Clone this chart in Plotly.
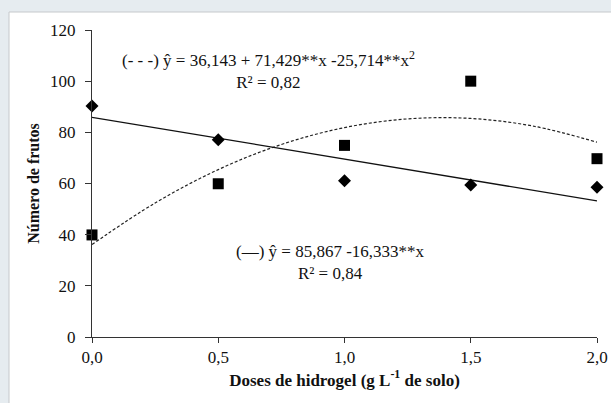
import plotly.graph_objects as go

# Data
doses = [0.0, 0.5, 1.0, 1.5, 2.0]
frutos_diamond = [90.3, 77.1, 61.1, 59.4, 58.5]   # linear fit (solid)
frutos_square = [39.9, 59.9, 74.9, 100.0, 69.7]   # quadratic fit (dashed)

# Fitted curves
fit_x = [0.0, 0.25, 0.5, 0.75, 1.0, 1.25, 1.5, 1.75, 2.0]
fit_quad = [36.14, 52.39, 65.43, 75.25, 81.86, 85.25, 85.43, 82.39, 76.14]
fit_lin_x = [0.0, 2.0]
fit_lin = [85.87, 53.20]

x_ticks = [0.0, 0.5, 1.0, 1.5, 2.0]
x_tick_labels = ["0,0", "0,5", "1,0", "1,5", "2,0"]
y_ticks = [0, 20, 40, 60, 80, 100, 120]

FONT = "Liberation Serif"
PAGE_BG = "#e6ecf0"

fig = go.Figure()

fig.add_trace(go.Scatter(x=fit_x, y=fit_quad, mode="lines", line_shape="spline",
                         line=dict(color="#222222", width=1.2, dash="3px,2px"),
                         showlegend=False, hoverinfo="skip", cliponaxis=False))
fig.add_trace(go.Scatter(x=fit_lin_x, y=fit_lin, mode="lines",
                         line=dict(color="#111111", width=1.3),
                         showlegend=False, hoverinfo="skip", cliponaxis=False))
fig.add_trace(go.Scatter(x=doses, y=frutos_diamond, mode="markers",
                         marker=dict(symbol="diamond", size=10, color="black"),
                         showlegend=False, cliponaxis=False))
fig.add_trace(go.Scatter(x=doses, y=frutos_square, mode="markers",
                         marker=dict(symbol="square", size=11, color="black"),
                         showlegend=False, cliponaxis=False))

ann_font = dict(family=FONT, size=17, color="#111111")
fig.add_annotation(x=0.70, y=104.5,
                   text="(- - -) ŷ = 36,143 + 71,429**x -25,714**x<sup>2</sup><br>R² = 0,82",
                   showarrow=False, font=ann_font, align="center",
                   xanchor="center", yanchor="middle")
fig.add_annotation(x=0.943, y=29.3,
                   text="(—) ŷ = 85,867 -16,333**x<br>R² = 0,84",
                   showarrow=False, font=ann_font, align="center",
                   xanchor="center", yanchor="middle")

# White panel with light border over bluish page background
fig.add_shape(type="rect", xref="paper", yref="paper",
              x0=-83/505, x1=1.2, y0=-0.3, y1=1 + 18/307,
              fillcolor="white", line=dict(color="#c6c9cc", width=1), layer="below")

fig.update_layout(
    width=611, height=403,
    margin=dict(l=92, r=14, t=30, b=66, autoexpand=False),
    paper_bgcolor=PAGE_BG,
    plot_bgcolor="rgba(0,0,0,0)",
    font=dict(family=FONT, size=16, color="#111111"),
    xaxis=dict(range=[0, 2], tickvals=x_ticks, ticktext=x_tick_labels,
               automargin=False,
               showgrid=False, zeroline=False, showline=True, linecolor="#333333",
               linewidth=1, ticks="outside", ticklen=5, tickcolor="#333333",
               tickfont=dict(family=FONT, size=17),
               title=dict(text="<b>Doses de hidrogel (g L<sup>-1</sup> de solo)</b>",
                          font=dict(family=FONT, size=17), standoff=0)),
    yaxis=dict(range=[0, 120], tickvals=y_ticks,
               automargin=False,
               showgrid=False, zeroline=False, showline=True, linecolor="#333333",
               linewidth=1, ticks="outside", ticklen=6, tickcolor="#333333",
               ticklabelstandoff=6,
               tickfont=dict(family=FONT, size=17),
               title=dict(text="<b>Número de frutos</b>",
                          font=dict(family=FONT, size=16), standoff=6)),
)

fig.write_html("out.html",
               config={"displayModeBar": False},
               post_script="document.body.style.margin='0';"
                           "document.body.style.background='" + PAGE_BG + "';")
